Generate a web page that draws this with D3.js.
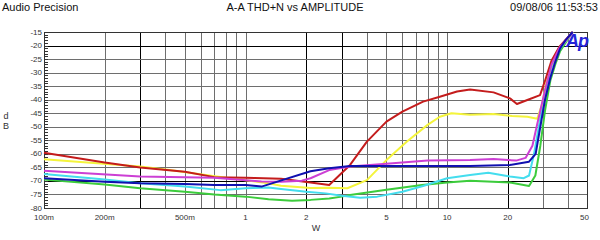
<!DOCTYPE html>
<html><head><meta charset="utf-8">
<script src="https://cdn.jsdelivr.net/npm/d3@7"></script>
<style>
html,body{margin:0;padding:0;background:#fff;}
svg{display:block;font-family:"Liberation Sans",Arial,sans-serif;}
</style></head>
<body><svg id="c" width="600" height="240"></svg>
<script>
// ---- data ----
const xTicks = [0.1, 0.2, 0.5, 1, 2, 5, 10, 20, 50];
const xTickLabels = ["100m", "200m", "500m", "1", "2", "5", "10", "20", "50"];
const xGrid = [0.2,0.3,0.4,0.5,0.6,0.7,0.8,0.9,1,2,3,4,5,6,7,8,9,10,20,30,40];
const xBold = [0.3, 2, 3, 20];
const yTicks = [-15,-20,-25,-30,-35,-40,-45,-50,-55,-60,-65,-70,-75,-80];
const yBold = [-20, -70];

const red = [[0.1,-59.6],[0.2,-63.2],[0.3,-65],[0.5,-66.6],[0.7,-68.6],[1,-68.8],[1.5,-69.2],[2.1,-70.6],[2.6,-71.5],[3.3,-64.1],[4,-55.5],[5,-48.1],[6,-44.4],[7.6,-40.7],[9.2,-38.9],[11.2,-37],[13,-36.2],[17,-37.3],[20.5,-39.5],[22.2,-41.6],[25,-40.1],[28.9,-38.3],[30.6,-33],[33,-25.5],[36,-20.5],[42,-15]];
const yellow = [[0.1,-62],[0.3,-64.7],[0.42,-66],[0.72,-68.4],[1.3,-70.9],[1.5,-71.8],[2.1,-72.6],[2.6,-72.5],[3.2,-72.7],[4,-69.7],[5,-62.3],[6.3,-55.5],[8,-49.3],[9.2,-46.3],[10.5,-45],[13,-45.6],[17,-45.3],[21,-46],[25,-46.3],[28,-47],[29.5,-42],[31,-34],[33,-27],[36,-21],[42,-15]];
const magenta = [[0.1,-66.2],[0.3,-68.4],[0.7,-68.8],[1.2,-70.2],[1.5,-70.3],[1.9,-69.9],[2.1,-69],[2.6,-66],[3.3,-64.7],[5,-63.7],[8,-62.5],[13,-62.3],[17,-61.9],[22,-62.5],[24.5,-61.5],[26.5,-57],[28,-49],[30.6,-36.5],[33,-27],[36,-21],[42,-15]];
const cyan = [[0.1,-67.4],[0.2,-69.5],[0.3,-70.9],[0.5,-72.1],[0.75,-73.4],[1,-72.7],[1.3,-72.4],[1.5,-73],[2,-74],[2.5,-74.6],[3,-75.5],[3.7,-76.2],[4.5,-75.8],[6,-74],[7.6,-71.9],[10,-69],[13,-67.8],[16,-67],[20.5,-68.4],[24,-69],[25.5,-68],[27,-60],[28.5,-50],[30.6,-38],[33,-28],[36,-21.5],[42,-15]];
const blue = [[0.1,-69],[0.2,-70.3],[0.3,-70.9],[0.5,-71.1],[0.7,-71.5],[1,-71.5],[1.2,-72.1],[1.35,-70.9],[2.1,-66.4],[2.6,-65.3],[3.3,-64.5],[6,-64.5],[13,-64.5],[20.5,-64.1],[25.5,-62.9],[27.5,-60],[29,-50],[30.6,-40],[32.5,-32],[34.4,-26],[36.4,-21],[38.7,-18],[42,-15]];
const green = [[0.1,-69.5],[0.2,-71.3],[0.3,-72.7],[0.5,-74],[0.7,-75],[1,-75.8],[1.3,-76.8],[1.7,-77.3],[2.1,-77],[2.6,-76.5],[3,-75.8],[3.3,-75.2],[5,-73.3],[7.5,-71.5],[10,-70.6],[13,-69.9],[20.5,-70.6],[25.5,-71.9],[27.4,-68],[29,-57],[30.6,-44],[32.5,-33],[34.4,-27],[36.4,-22],[42,-15]];

const series = [
  {d: green, c: "#3ccc3c"},
  {d: cyan, c: "#44ddee"},
  {d: yellow, c: "#f4f43c"},
  {d: red, c: "#c41c1c"},
  {d: magenta, c: "#cc3fd4"},
  {d: blue, c: "#1010b0"}
];

// ---- layout ----
const L = 44, R = 588, T = 32, B = 208;
const svg = d3.select("#c");
const x = d3.scaleLog().domain([0.1, 50]).range([L, R]);
const y = d3.scaleLinear().domain([-80, -15]).range([B, T]);

// titles
svg.append("text").attr("x", 2).attr("y", 11).attr("font-size", 11).attr("fill", "#111").text("Audio Precision");
svg.append("text").attr("x", 295).attr("y", 11).attr("font-size", 11).attr("text-anchor", "middle").attr("fill", "#111").text("A-A THD+N vs AMPLITUDE");
svg.append("text").attr("x", 598).attr("y", 11).attr("font-size", 11).attr("text-anchor", "end").attr("fill", "#111").text("09/08/06 11:53:53");

// grid
const g = svg.append("g");
g.selectAll("line.v").data(xGrid).enter().append("line")
  .attr("x1", d => Math.round(x(d)) + 0.5).attr("x2", d => Math.round(x(d)) + 0.5)
  .attr("y1", T).attr("y2", B)
  .attr("stroke", d => xBold.includes(d) ? "#000" : "#6e6e6e").attr("stroke-width", 1);
g.selectAll("line.h").data(yTicks.filter(d => d > -80 && d < -15)).enter().append("line")
  .attr("x1", L).attr("x2", R)
  .attr("y1", d => Math.round(y(d)) + 0.5).attr("y2", d => Math.round(y(d)) + 0.5)
  .attr("stroke", d => yBold.includes(d) ? "#000" : "#6e6e6e").attr("stroke-width", 1);

// minor ticks on left axis
const minor = d3.range(-80, -14, 1);
g.selectAll("line.m").data(minor).enter().append("line")
  .attr("x1", L).attr("x2", L + 4)
  .attr("y1", d => Math.round(y(d)) + 0.5).attr("y2", d => Math.round(y(d)) + 0.5)
  .attr("stroke", "#333").attr("stroke-width", 1);

// border
svg.append("rect").attr("x", L + 0.5).attr("y", T + 0.5).attr("width", R - L - 1).attr("height", B - T)
  .attr("fill", "none").attr("stroke", "#333").attr("stroke-width", 1);

// axes labels
svg.selectAll("text.yt").data(yTicks).enter().append("text")
  .attr("x", L - 2).attr("y", d => y(d) + 2.5).attr("text-anchor", "end")
  .attr("font-size", 8).attr("fill", "#333").text(d => d);
svg.selectAll("text.xt").data(xTicks).enter().append("text")
  .attr("x", (d, i) => i === xTicks.length - 1 ? x(d) + 1 : x(d))
  .attr("y", 220)
  .attr("text-anchor", (d, i) => i === xTicks.length - 1 ? "end" : "middle")
  .attr("font-size", 8).attr("fill", "#333").text((d, i) => xTickLabels[i]);
svg.append("text").attr("x", 316).attr("y", 231).attr("text-anchor", "middle").attr("font-size", 9).attr("fill", "#333").text("W");
svg.append("text").attr("x", 6).attr("y", 119).attr("text-anchor", "middle").attr("font-size", 9).attr("fill", "#333").text("d");
svg.append("text").attr("x", 6).attr("y", 129).attr("text-anchor", "middle").attr("font-size", 9).attr("fill", "#333").text("B");

// curves
const line = d3.line().x(d => x(d[0])).y(d => y(d[1]));
const cg = svg.append("g");
series.forEach(s => {
  cg.append("path").attr("d", line(s.d)).attr("fill", "none")
    .attr("stroke", s.c).attr("stroke-width", 2).attr("stroke-linejoin", "round");
});

// Ap logo
svg.append("text").attr("x", 566).attr("y", 47).attr("font-size", 18).attr("font-weight", "bold")
  .attr("font-style", "italic").attr("fill", "#2424d8").attr("letter-spacing", -1).text("Ap");
</script></body></html>
